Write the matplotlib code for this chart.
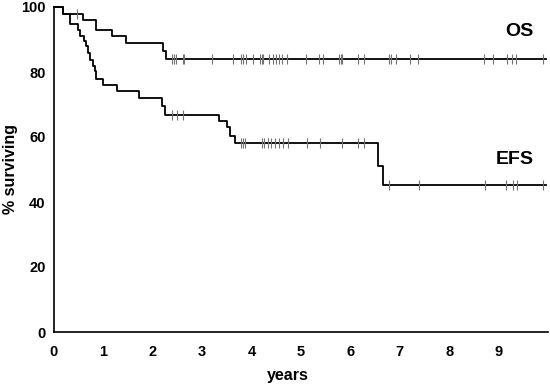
import numpy as np
import matplotlib
matplotlib.use("Agg")
import matplotlib.pyplot as plt

# Kaplan-Meier step data (years, % surviving)
os_time = [0, 0.18, 0.59, 0.86, 1.17, 1.46, 2.20, 2.27, 9.95]
os_surv = [100, 98.0, 95.9, 92.9, 91.0, 89.0, 86.4, 84.0, 84.0]
os_censored = [0.47, 2.38, 2.42, 2.47, 2.61, 2.64, 3.20, 3.62, 3.79, 3.83,
               3.89, 4.02, 4.18, 4.21, 4.24, 4.36, 4.43, 4.49, 4.55, 4.61,
               4.72, 5.11, 5.37, 5.44, 5.76, 5.80, 5.83, 6.15, 6.27, 6.79,
               6.82, 6.92, 7.21, 7.37, 8.71, 8.88, 9.16, 9.28, 9.36, 9.89]

efs_time = [0, 0.18, 0.32, 0.48, 0.53, 0.60, 0.64, 0.69, 0.73, 0.79, 0.82,
            0.85, 1.00, 1.27, 1.73, 2.19, 2.24, 3.34, 3.50, 3.57, 3.66,
            6.55, 6.67, 9.95]
efs_surv = [100, 98.0, 94.9, 92.9, 91.2, 89.5, 87.9, 85.9, 83.8, 81.8, 80.2,
            78.0, 76.1, 74.1, 72.0, 69.6, 66.9, 65.0, 63.0, 60.2, 58.2,
            51.1, 45.1, 45.1]
efs_censored = [2.38, 2.49, 2.61, 3.79, 3.82, 3.87, 4.21, 4.25, 4.33, 4.39,
                4.47, 4.55, 4.63, 4.73, 5.12, 5.38, 5.83, 6.16, 6.28, 6.79,
                7.38, 8.73, 9.15, 9.30, 9.37, 9.89]

x_ticks = [0, 1, 2, 3, 4, 5, 6, 7, 8, 9]
y_ticks = [0, 20, 40, 60, 80, 100]


def surv_at(times, surv, t):
    # value of the step function at time t
    idx = np.searchsorted(times, t, side="right") - 1
    return np.asarray(surv)[idx]


plt.rcParams["font.family"] = ["Liberation Sans", "DejaVu Sans"]
plt.rcParams["font.weight"] = "bold"

W, H = 550, 387
fig = plt.figure(figsize=(W / 100, H / 100), dpi=100)
ax = fig.add_axes([54 / W, 55 / H, 494 / W, 325 / H])

for times, surv, cens in [(os_time, os_surv, os_censored),
                          (efs_time, efs_surv, efs_censored)]:
    ax.step(times, surv, where="post", color="black", lw=1.3, clip_on=False)
    ax.plot(cens, surv_at(times, surv, cens), linestyle="none", marker="|",
            ms=6.5, mew=0.8, color="0.45", clip_on=False)

# curve labels, placed in pixel positions measured from the top-left
fig.text(519 / W, 1 - 31 / H, "OS", fontsize=14, fontweight="bold",
         ha="center", va="center")
fig.text(515 / W, 1 - 159 / H, "EFS", fontsize=14, fontweight="bold",
         ha="center", va="center")

ax.set_xlim(0, 10)
ax.set_ylim(0, 100)
ax.set_xticks(x_ticks)
ax.set_yticks(y_ticks)
ax.tick_params(length=0, labelsize=10.5)
ax.tick_params(axis="x", pad=9)
ax.tick_params(axis="y", pad=6)
for lab in ax.get_xticklabels() + ax.get_yticklabels():
    lab.set_fontweight("bold")
ax.spines["top"].set_visible(False)
ax.spines["right"].set_visible(False)
ax.spines["left"].set_linewidth(1.2)
ax.spines["bottom"].set_linewidth(1.2)

ax.set_xlabel("years", fontsize=11.5, fontweight="bold")
ax.set_ylabel("% surviving", fontsize=11.5, fontweight="bold")
ax.xaxis.set_label_coords(0.474, -0.135)
ax.yaxis.set_label_coords(-0.089, 0.5)
ax.xaxis.label.set_va("center")
ax.yaxis.label.set_va("center")

fig.savefig("out.png", dpi=100)
